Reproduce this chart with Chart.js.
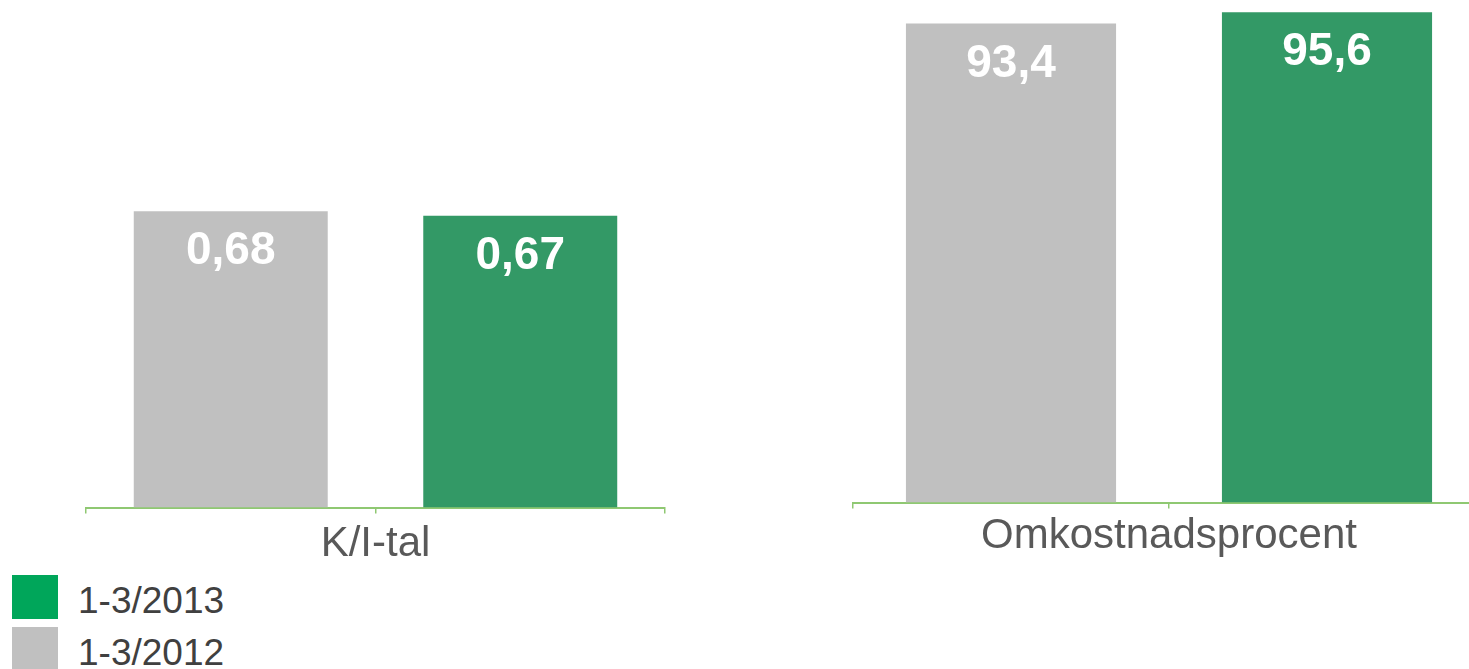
<!DOCTYPE html>
<html>
<head>
<meta charset="utf-8">
<title>K/I-tal och omkostnadsprocent</title>
<script src="https://cdn.jsdelivr.net/npm/chart.js@4.4.0/dist/chart.umd.min.js"></script>
<style>
    html, body { margin: 0; padding: 0; background: #fff; }
    #wrap { position: relative; width: 1469px; height: 669px; overflow: hidden; }
    .box { position: absolute; top: 0; }
    #left-box { left: 0; width: 700px; height: 570px; }
    #right-box { left: 760px; width: 800px; height: 562px; }
    #legend { position: absolute; left: 12px; top: 575px; margin: 0; padding: 0; list-style: none;
              font-family: "Liberation Sans", Arial, sans-serif; font-size: 37px; color: #404040; }
    #legend li { display: flex; align-items: center; height: 44px; margin-bottom: 8px; }
    #legend .swatch { width: 46px; height: 44px; margin-right: 20px; flex: none; }
    #legend .txt { padding-top: 8px; }
</style>
</head>
<body>
<div id="wrap">
    <div class="box" id="left-box"><canvas id="ki-chart"></canvas></div>
    <div class="box" id="right-box"><canvas id="omk-chart"></canvas></div>
    <ul id="legend"></ul>
</div>
<script>
// Data
const seriesNames = ['1-3/2012', '1-3/2013'];
const barColors = ['#c0c0c0', '#339966'];
const legendColors = ['#c0c0c0', '#00a65a'];

const kiLabel = 'K/I-tal';
const kiValues = [0.68, 0.67];

const omkLabel = 'Omkostnadsprocent';
const omkValues = [93.4, 95.6];

const axisGreen = '#8fc872';

Chart.defaults.font.family = '"Liberation Sans", Arial, sans-serif';

// Vita värdeetiketter inne i staplarna
const valueLabels = {
    id: 'valueLabels',
    afterDatasetsDraw(chart) {
        const ctx = chart.ctx;
        ctx.save();
        ctx.font = 'bold 46px "Liberation Sans", Arial, sans-serif';
        ctx.fillStyle = '#ffffff';
        ctx.textAlign = 'center';
        ctx.textBaseline = 'alphabetic';
        chart.data.datasets.forEach((ds, i) => {
            chart.getDatasetMeta(i).data.forEach((bar, j) => {
                const v = ds.data[j];
                if (v == null) return;
                ctx.fillText(String(v).replace('.', ','), bar.x, bar.y + 53);
            });
        });
        ctx.restore();
    }
};

function makeChart(canvasId, label, values, yMax, barPct, pad, titlePad) {
    return new Chart(document.getElementById(canvasId), {
        type: 'bar',
        data: {
            labels: seriesNames,
            // ett dataset per period, en stapel var
            datasets: seriesNames.map((name, i) => ({
                label: name,
                data: values.map((v, j) => (j === i ? v : null)),
                backgroundColor: barColors[i],
                borderWidth: 0,
                grouped: false,
                barPercentage: barPct,
                categoryPercentage: 1
            }))
        },
        options: {
            responsive: true,
            maintainAspectRatio: false,
            animation: false,
            layout: { padding: { left: pad.left, right: pad.right, top: 0, bottom: 0 } },
            plugins: {
                legend: { display: false },
                tooltip: { enabled: false }
            },
            scales: {
                x: {
                    grid: {
                        display: true,
                        drawOnChartArea: false,
                        drawTicks: true,
                        tickLength: 6,
                        color: axisGreen,
                        lineWidth: 1.5,
                        offset: true
                    },
                    border: { display: true, color: axisGreen, width: 2 },
                    ticks: { display: false },
                    title: {
                        display: true,
                        text: label,
                        color: '#595959',
                        font: { size: 42 },
                        padding: { top: titlePad, bottom: 0 }
                    }
                },
                y: { display: false, min: 0, max: yMax }
            }
        },
        plugins: [valueLabels]
    });
}

const kiChart = makeChart('ki-chart', kiLabel, kiValues, 1.165, 0.67, { left: 86, right: 35 }, 6);
const omkChart = makeChart('omk-chart', omkLabel, omkValues, 98, 0.665, { left: 93, right: 75 }, 3);

// HTML-legend (2013 först)
const legendEl = document.getElementById('legend');
kiChart.data.datasets.map((ds, i) => ({ text: ds.label, color: legendColors[i] }))
    .reverse()
    .forEach(item => {
        const li = document.createElement('li');
        const sw = document.createElement('span');
        sw.className = 'swatch';
        sw.style.background = item.color;
        const tx = document.createElement('span');
        tx.className = 'txt';
        tx.textContent = item.text;
        li.appendChild(sw);
        li.appendChild(tx);
        legendEl.appendChild(li);
    });
</script>
</body>
</html>
